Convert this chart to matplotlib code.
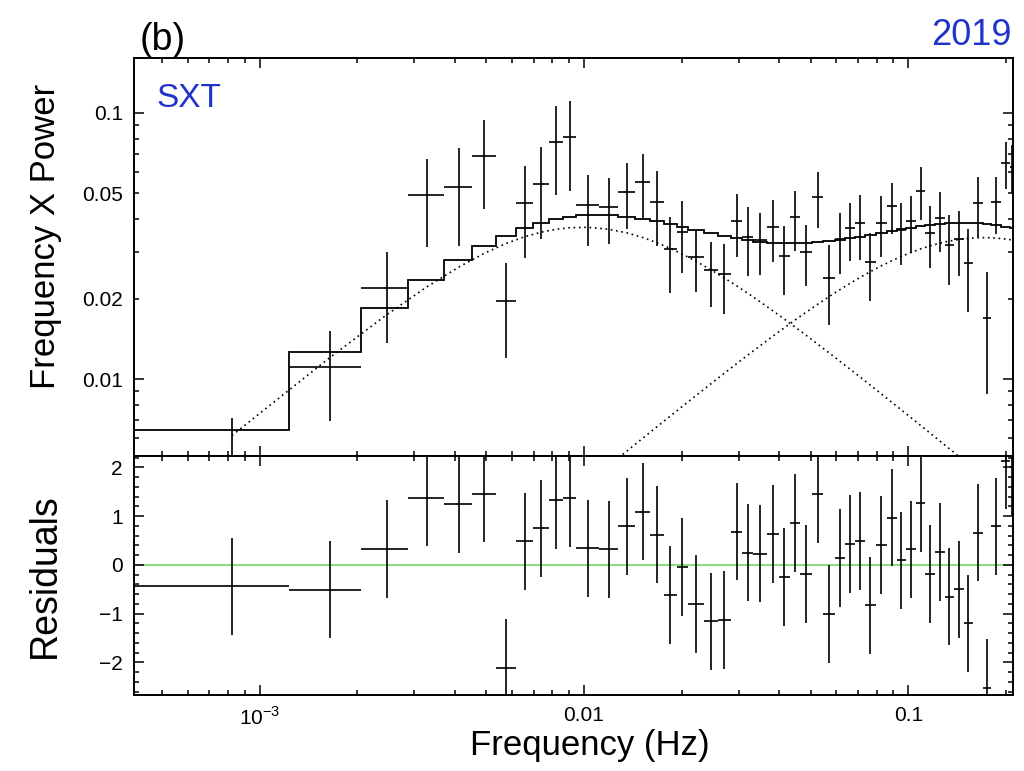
import numpy as np
import matplotlib
matplotlib.use("Agg")
import matplotlib.pyplot as plt
from matplotlib.ticker import FixedLocator, FixedFormatter, MultipleLocator, NullFormatter

plt.rcParams['font.family'] = ['Liberation Sans', 'DejaVu Sans']
plt.rcParams['mathtext.fontset'] = 'custom'
plt.rcParams['mathtext.rm'] = 'Liberation Sans'

# frequency bin edges (Hz), rebinned power spectrum
edges = np.array([
    0.000411, 0.001232, 0.002054, 0.002875, 0.003697, 0.004518, 0.005340,
    0.006161, 0.006983, 0.007804, 0.008626, 0.009447, 0.01109, 0.01273,
    0.01438, 0.01602, 0.01766, 0.01931, 0.02095, 0.02341, 0.02588, 0.02834,
    0.03081, 0.03327, 0.03656, 0.03984, 0.04313, 0.04641, 0.05052, 0.05463,
    0.05956, 0.06367, 0.06860, 0.07352, 0.07927, 0.08585, 0.09242, 0.09817,
    0.1056, 0.1130, 0.1212, 0.1294, 0.1384, 0.1483, 0.1581, 0.1696, 0.1795,
    0.1935, 0.2058, 0.2107])

# frequency x power and its 1-sigma error per bin
power = np.array([
    0.00512, 0.01106, 0.0219, 0.0492, 0.0528, 0.0689, 0.0197, 0.0458, 0.0541,
    0.0778, 0.0810, 0.0451, 0.0445, 0.0506, 0.0552, 0.0461, 0.0308, 0.0358,
    0.0288, 0.0257, 0.0248, 0.0393, 0.0343, 0.0333, 0.0372, 0.0291, 0.0407,
    0.0301, 0.0485, 0.0239, 0.0335, 0.0369, 0.0385, 0.0276, 0.0387, 0.0448,
    0.0363, 0.0393, 0.0511, 0.0355, 0.0402, 0.0319, 0.0336, 0.0272, 0.0458,
    0.0170, 0.0464, 0.0647, 0.0629])
power_err = np.array([
    0.0020, 0.0041, 0.0082, 0.0178, 0.0212, 0.0252, 0.0077, 0.0172, 0.0205,
    0.0287, 0.0300, 0.0135, 0.0123, 0.0140, 0.0152, 0.0145, 0.0098, 0.0107,
    0.0076, 0.0071, 0.0073, 0.0105, 0.0099, 0.0086, 0.0097, 0.0084, 0.0104,
    0.0078, 0.0115, 0.0080, 0.0086, 0.0091, 0.0105, 0.0079, 0.0099, 0.0097,
    0.0094, 0.0096, 0.0115, 0.0094, 0.0103, 0.0093, 0.0092, 0.0094, 0.0117,
    0.0082, 0.0112, 0.0129, 0.0130])

# (data - model) / error
resid = np.array([
    -0.44, -0.51, 0.33, 1.38, 1.24, 1.46, -2.11, 0.48, 0.75, 1.33, 1.37,
    0.34, 0.32, 0.79, 1.09, 0.62, -0.62, -0.04, -0.80, -1.16, -1.13, 0.68,
    0.25, 0.23, 0.63, -0.25, 0.86, -0.19, 1.45, -1.01, 0.14, 0.43, 0.49,
    -0.83, 0.41, 0.97, 0.09, 0.32, 1.27, -0.19, 0.26, -0.65, -0.50, -1.20,
    0.66, -2.53, 0.79, 2.14, 2.00])

# two zero-centred Lorentzians: peak of nu*P and width (Hz)
lor_peak = [0.0372, 0.034]
lor_width = [0.0099, 0.171]


def lorentz_nup(nu, peak, width):
    x = nu / width
    return 2 * peak * x / (1 + x**2)


centers = 0.5 * (edges[:-1] + edges[1:])
xerr = [centers - edges[:-1], edges[1:] - centers]
comps = [lorentz_nup(centers, p, w) for p, w in zip(lor_peak, lor_width)]
model = comps[0] + comps[1]

fig = plt.figure(figsize=(10.24, 7.71), dpi=100)
ax1 = fig.add_axes([0.1309, 0.4092, 0.8581, 0.5156])
ax2 = fig.add_axes([0.1309, 0.0986, 0.8581, 0.3106], sharex=ax1)

ax1.errorbar(centers, power, xerr=xerr, yerr=power_err, fmt='none',
             ecolor='k', elinewidth=1.2, capsize=0)
ax1.stairs(model, edges, baseline=None, color='k', lw=1.3)
for c in comps:
    ax1.plot(centers, c, ls=(0, (1, 2.2)), color='k', lw=1.2)

ax1.set_xscale('log')
ax1.set_yscale('log')
ax1.set_xlim(4.1e-4, 0.2100)
ax1.set_ylim(0.005158, 0.161)

ax1.yaxis.set_major_locator(FixedLocator([0.01, 0.1]))
ax1.yaxis.set_major_formatter(FixedFormatter(['0.01', '0.1']))
ylo = [0.006, 0.007, 0.008, 0.009, 0.02, 0.03, 0.04, 0.05, 0.06, 0.07, 0.08, 0.09]
ax1.yaxis.set_minor_locator(FixedLocator(ylo))
ax1.yaxis.set_minor_formatter(FixedFormatter(
    ['' if v not in (0.02, 0.05) else str(v) for v in ylo]))

xmaj = [1e-3, 1e-2, 1e-1]
xmin = [k * d for d in (1e-4, 1e-3, 1e-2, 1e-1) for k in range(2, 10)]
ax1.xaxis.set_major_locator(FixedLocator(xmaj))
ax1.xaxis.set_minor_locator(FixedLocator(xmin))
ax1.xaxis.set_major_formatter(FixedFormatter([r'$10^{-3}$', '0.01', '0.1']))
ax1.xaxis.set_minor_formatter(NullFormatter())

ax2.errorbar(centers, resid, xerr=xerr, yerr=1.0, fmt='none',
             ecolor='k', elinewidth=1.2, capsize=0)
ax2.axhline(0, color='#86e07a', lw=1.4, zorder=0)
ax2.set_ylim(-2.669, 2.244)
ax2.yaxis.set_major_locator(MultipleLocator(1))
ax2.yaxis.set_minor_locator(MultipleLocator(0.2))

for ax in (ax1, ax2):
    ax.tick_params(which='both', direction='in', top=True, right=True,
                   labelsize=15, pad=8, width=1.1)
    ax.tick_params(which='major', length=7)
    ax.tick_params(which='minor', length=3.8)
    for s in ax.spines.values():
        s.set_linewidth(1.4)
ax1.tick_params(axis='x', which='both', labelbottom=False)

ax1.set_ylabel('Frequency X Power', fontsize=25)
ax1.yaxis.set_label_coords(-0.101, 0.55)
ax1.yaxis.label.set_va('center')
ax2.set_ylabel('Residuals', fontsize=27)
ax2.yaxis.set_label_coords(-0.101, 0.5)
ax2.yaxis.label.set_va('center')
ax2.set_xlabel('Frequency (Hz)', fontsize=25)
ax2.xaxis.set_label_coords(0.519, -0.209)
ax2.xaxis.label.set_va('center')

ax1.text(0.026, 0.877, 'SXT', transform=ax1.transAxes, color='#2233c8',
         fontsize=24, va='baseline')
fig.text(140 / 1024, 1 - 50 / 771, '(b)', fontsize=27, va='baseline')
fig.text(1012 / 1024, 1 - 45 / 771, '2019', fontsize=26, color='#2233c8',
         va='baseline', ha='right')

fig.savefig('out.png', dpi=100)
